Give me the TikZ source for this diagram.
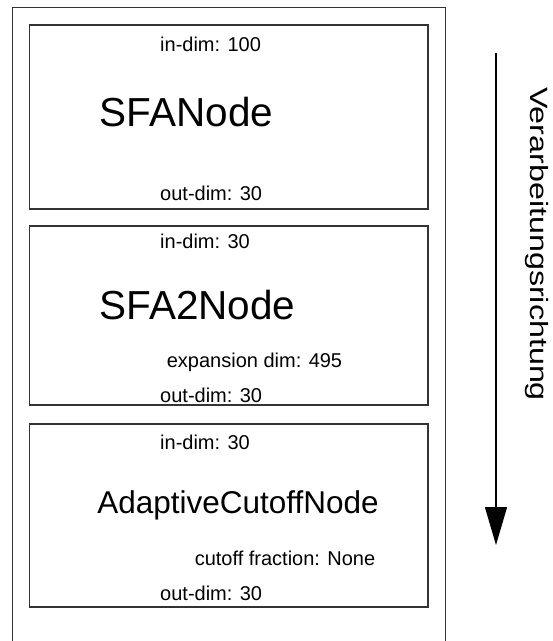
\documentclass[tikz,border=0pt]{standalone}
\usepackage{fontspec}
\setmainfont{Liberation Sans}
\usetikzlibrary{arrows.meta}
\begin{document}
\begin{tikzpicture}[x=1pt,y=-1pt,
  frame/.style={draw=black!80,line width=1.2pt},
  small/.style={inner sep=0pt,font=\fontsize{20}{22}\selectfont},
  big/.style={inner sep=0pt,font=\fontsize{40.5}{44}\selectfont},
  mid/.style={inner sep=0pt,font=\fontsize{31.5}{34}\selectfont}]
\useasboundingbox (0,0) rectangle (553,641);
\fill[white] (0,0) rectangle (553,641);
% outer frame (bottom runs off the picture)
\draw[frame] (12.5,680) -- (12.5,7.5) -- (445.5,7.5) -- (445.5,680);
% boxes
\draw[frame] (29.5,25) rectangle (428,209);
\draw[frame] (29.5,226) rectangle (428,405);
\draw[frame] (29.5,424) rectangle (428,607);
% box 1
\node[small,anchor=base west] (i1) at (160,51) {in-dim: 100};
\node[big,anchor=base] (n1) at (186.5,126) {SFANode};
\node[small,anchor=base west] (o1) at (160,200) {out-dim: 30};
% box 2
\node[small,anchor=base west] (i2) at (160,248) {in-dim: 30};
\node[big,anchor=base] (n2) at (197.5,319) {SFA2Node};
\node[small,anchor=base] (e2) at (254.5,367) {expansion dim: 495};
\node[small,anchor=base west] (o2) at (160,402) {out-dim: 30};
% box 3
\node[small,anchor=base west] (i3) at (160,449) {in-dim: 30};
\node[mid,anchor=base] (n3) at (238,513) {AdaptiveCutoffNode};
\node[small,anchor=base] (c3) at (285,565) {cutoff fraction: None};
\node[small,anchor=base west] (o3) at (160,600) {out-dim: 30};
% direction arrow
\coordinate (astart) at (496,53);
\coordinate (aend) at (496,545);
\draw[line width=1.2pt,-{Triangle[width=22pt,length=38pt]}] (astart) -- (aend);
\node[inner sep=0pt,rotate=-90,anchor=base west,font=\fontsize{25}{28}\selectfont] (dir) at (530,87) {\scalebox{1.29}[1]{Verarbeitungsrichtung}};
\end{tikzpicture}
\end{document}
